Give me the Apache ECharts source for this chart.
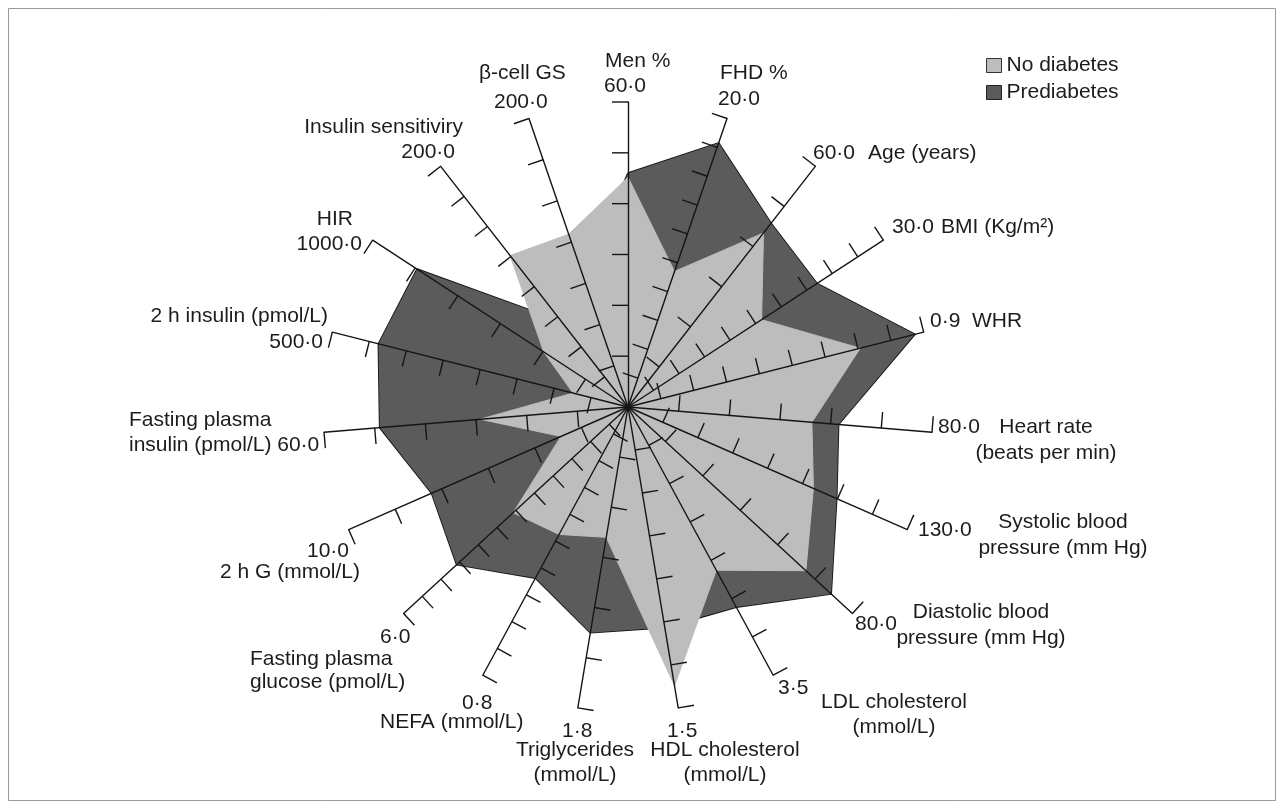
<!DOCTYPE html>
<html>
<head>
<meta charset="utf-8">
<style>
  html, body { margin: 0; padding: 0; background: #ffffff; }
  #chart { width: 1284px; height: 809px; }
</style>
<script src="https://cdn.jsdelivr.net/npm/echarts/dist/echarts.min.js"></script>
</head>
<body>
<div id="chart"></div>
<script>
// Axes listed clockwise, starting from the top axis.
const axisTitles = [
  ['Men %'], ['FHD %'], ['Age (years)'], ['BMI (Kg/m²)'], ['WHR'],
  ['Heart rate', '(beats per min)'], ['Systolic blood', 'pressure (mm Hg)'],
  ['Diastolic blood', 'pressure (mm Hg)'], ['LDL cholesterol', '(mmol/L)'],
  ['HDL cholesterol', '(mmol/L)'], ['Triglycerides', '(mmol/L)'], ['NEFA (mmol/L)'],
  ['Fasting plasma', 'glucose (pmol/L)'], ['2 h G (mmol/L)'],
  ['Fasting plasma', 'insulin (pmol/L)'], ['2 h insulin (pmol/L)'], ['HIR'],
  ['Insulin sensitiviry'], ['β-cell GS']
];
const axisMaxLabels = ['60·0', '20·0', '60·0', '30·0', '0·9', '80·0', '130·0', '80·0', '3·5', '1·5',
  '1·8', '0·8', '6·0', '10·0', '60·0', '500·0', '1000·0', '200·0', '200·0'];
const tickCounts = [6, 10, 6, 10, 9, 6, 8, 6, 7, 7, 6, 10, 12, 6, 6, 8, 6, 8, 7];

const seriesNames = ['No diabetes', 'Prediabetes'];
const noDiabetes = [45.2, 9.4, 43.4, 15.7, 0.707, 48.4, 86.3, 63.4, 2.13, 1.39,
  0.78, 0.38, 3.07, 2.4, 29.2, 93, 330, 125.8, 119.8];
const prediabetes = [46.0, 18.3, 45.8, 22.2, 0.873, 55.4, 97.1, 72.4, 2.61, 1.10,
  1.35, 0.51, 4.58, 7.03, 49.0, 422, 826, 71, 90];

// ---- geometry / style ----
const N = axisTitles.length;
const CX = 628, CY = 407, R = 305;
const TICK = 16 / R;             // tick length in normalised radar units
const INK = '#151515';
const LIGHT = '#bdbdbd';
const DARK = '#5b5b5b';
const FONT = '21px "Liberation Sans", Arial, sans-serif';

const axisMax = axisMaxLabels.map(s => parseFloat(s.replace('·', '.')));

// ECharts places radar indicators counter-clockwise, so feed them in reverse
const order = [0];
for (let i = N - 1; i >= 1; i--) order.push(i);

const indicators = order.map(i => ({ name: axisTitles[i].join(' '), min: 0, max: axisMax[i] }));
const reorder = arr => order.map(i => arr[i]);

// tick marks: one entry per tick, [0, 0, axis, step]
const tickData = [];
tickCounts.forEach((n, a) => { for (let k = 1; k <= n; k++) tickData.push([0, 0, a, k]); });

// label placement: [text, x, y, align]
const labelLayout = [
  [axisTitles[0][0], 605, 61, 'left'], [axisMaxLabels[0], 604, 86, 'left'],
  [axisTitles[1][0], 720, 73, 'left'], [axisMaxLabels[1], 718, 99, 'left'],
  [axisMaxLabels[2], 813, 153, 'left'], [axisTitles[2][0], 868, 153, 'left'],
  [axisMaxLabels[3], 892, 227, 'left'], [axisTitles[3][0], 941, 227, 'left'],
  [axisMaxLabels[4], 930, 321, 'left'], [axisTitles[4][0], 972, 321, 'left'],
  [axisMaxLabels[5], 938, 427, 'left'], [axisTitles[5][0], 1046, 427, 'center'], [axisTitles[5][1], 1046, 453, 'center'],
  [axisMaxLabels[6], 918, 530, 'left'], [axisTitles[6][0], 1063, 522, 'center'], [axisTitles[6][1], 1063, 548, 'center'],
  [axisMaxLabels[7], 855, 624, 'left'], [axisTitles[7][0], 981, 612, 'center'], [axisTitles[7][1], 981, 638, 'center'],
  [axisMaxLabels[8], 778, 688, 'left'], [axisTitles[8][0], 894, 702, 'center'], [axisTitles[8][1], 894, 727, 'center'],
  [axisMaxLabels[9], 667, 731, 'left'], [axisTitles[9][0], 725, 750, 'center'], [axisTitles[9][1], 725, 775, 'center'],
  [axisMaxLabels[10], 562, 731, 'left'], [axisTitles[10][0], 575, 750, 'center'], [axisTitles[10][1], 575, 775, 'center'],
  [axisMaxLabels[11], 462, 703, 'left'], [axisTitles[11][0], 380, 722, 'left'],
  [axisMaxLabels[12], 380, 637, 'left'], [axisTitles[12][0], 250, 659, 'left'], [axisTitles[12][1], 250, 682, 'left'],
  [axisMaxLabels[13], 307, 551, 'left'], [axisTitles[13][0], 360, 572, 'right'],
  [axisTitles[14][0], 129, 420, 'left'], [axisTitles[14][1] + ' ' + axisMaxLabels[14], 129, 445, 'left'],
  [axisTitles[15][0], 328, 316, 'right'], [axisMaxLabels[15], 323, 342, 'right'],
  [axisTitles[16][0], 353, 219, 'right'], [axisMaxLabels[16], 362, 244, 'right'],
  [axisTitles[17][0], 463, 127, 'right'], [axisMaxLabels[17], 455, 152, 'right'],
  [axisTitles[18][0], 479, 73, 'left'], [axisMaxLabels[18], 494, 102, 'left']
];

const graphics = [{
  type: 'rect', z: 0, silent: true,
  shape: { x: 8.5, y: 8.5, width: 1267, height: 792 },
  style: { fill: 'none', stroke: '#9a9a9a', lineWidth: 1 }
}].concat(labelLayout.map(([text, x, y, align]) => ({
  type: 'text', x: x, y: y, z: 10, silent: true,
  style: { text: text, font: FONT, fill: '#1c1c1c', textAlign: align, textVerticalAlign: 'middle' }
})));

const chart = echarts.init(document.getElementById('chart'), null, { renderer: 'canvas' });
chart.setOption({
  backgroundColor: '#ffffff',
  animation: false,
  legend: {
    orient: 'vertical',
    left: 981, top: 50,
    itemWidth: 15, itemHeight: 14, itemGap: 6,
    icon: 'rect',
    textStyle: { fontFamily: '"Liberation Sans", Arial, sans-serif', fontSize: 21, color: '#1c1c1c', lineHeight: 21 },
    data: [
      { name: seriesNames[0], itemStyle: { color: LIGHT, borderColor: '#333', borderWidth: 1 } },
      { name: seriesNames[1], itemStyle: { color: DARK, borderColor: '#222', borderWidth: 1 } }
    ]
  },
  radar: {
    center: [CX, CY],
    radius: R,
    startAngle: 90,
    z: 3,
    indicator: indicators,
    axisName: { show: false },
    splitLine: { show: false },
    splitArea: { show: false },
    axisTick: { show: false },
    axisLabel: { show: false },
    axisLine: { lineStyle: { color: INK, width: 1.4 } }
  },
  grid: { left: CX - R, top: CY - R, width: 2 * R, height: 2 * R, show: false },
  xAxis: { type: 'value', min: -1, max: 1, show: false },
  yAxis: { type: 'value', min: -1, max: 1, show: false },
  graphic: { elements: graphics },
  series: [
    {
      type: 'radar',
      symbol: 'none',
      z: 2,
      data: [
        {
          name: seriesNames[1],
          value: reorder(prediabetes),
          itemStyle: { color: DARK },
          areaStyle: { color: DARK, opacity: 1 },
          lineStyle: { color: INK, width: 1.8 }
        },
        {
          name: seriesNames[0],
          value: reorder(noDiabetes),
          itemStyle: { color: LIGHT },
          areaStyle: { color: LIGHT, opacity: 1 },
          lineStyle: { color: LIGHT, width: 1 }
        }
      ]
    },
    {
      type: 'custom',
      coordinateSystem: 'cartesian2d',
      z: 4,
      silent: true,
      encode: { x: 0, y: 1 },
      data: tickData,
      renderItem: function (params, api) {
        const a = api.value(2), k = api.value(3);
        const th = a * 2 * Math.PI / N;          // clockwise from the top
        const f = k / tickCounts[a];
        const p0 = [f * Math.sin(th), f * Math.cos(th)];
        const p1 = [p0[0] - TICK * Math.cos(th), p0[1] + TICK * Math.sin(th)];
        const s = api.coord(p0), e = api.coord(p1);
        return {
          type: 'line',
          shape: { x1: s[0], y1: s[1], x2: e[0], y2: e[1] },
          style: { stroke: INK, lineWidth: 1.4 }
        };
      }
    }
  ]
});
</script>
</body>
</html>
